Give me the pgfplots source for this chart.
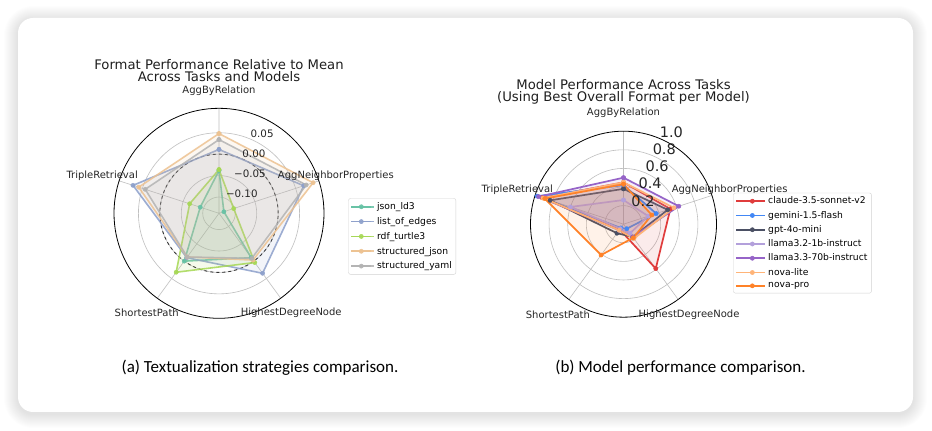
\documentclass[border=0pt]{standalone}
\usepackage{fontspec}
\setmainfont{DejaVu Sans}
\newfontfamily\capfont{Carlito}
\usepackage{pgfplots}
\pgfplotsset{compat=1.18}
\usepgfplotslibrary{polar}

\definecolor{cJson}{HTML}{66C2A5}
\definecolor{cEdges}{HTML}{8DA0CB}
\definecolor{cRdf}{HTML}{A6D854}
\definecolor{cSjson}{HTML}{EDC291}
\definecolor{cYaml}{HTML}{B3B3B3}

\definecolor{cClaude}{HTML}{E03C3C}
\definecolor{cGemini}{HTML}{4287F5}
\definecolor{cGpt}{HTML}{4B5064}
\definecolor{cLlamaS}{HTML}{B3A0DB}
\definecolor{cLlamaL}{HTML}{9664C8}
\definecolor{cLite}{HTML}{FFB478}
\definecolor{cPro}{HTML}{FF8228}

\newcommand{\radshift}{0.138}

\pgfplotsset{
  radarA/.style={draw=#1, draw opacity=0.85, line width=1.6pt, mark=*, mark size=2.1pt,
    mark options={solid, fill=#1, fill opacity=0.9, draw opacity=0.9, line width=0.5pt},
    fill=#1, fill opacity=0.11},
  radarB/.style={draw=#1, line width=1.7pt, mark=*, mark size=2.1pt,
    mark options={solid, fill=#1, fill opacity=1, draw opacity=1, line width=0.5pt},
    fill=#1, fill opacity=0.10},
  radarcommon/.style={
    separate axis lines,
    x axis line style={black, line width=0.8pt},
    y axis line style={draw=none},
    grid=major, major grid style={gray!50, line width=0.6pt},
    major tick length=0pt,
    clip=false,
    legend cell align=left,
  },
}

\begin{document}
\begin{tikzpicture}[x=1pt,y=1pt]
\useasboundingbox (0,0) rectangle (932,431);
\fill[white] (0,0) rectangle (932,431);
% soft shadow
\foreach \i in {1,...,14} {
  \pgfmathsetmacro\rr{15+\i}
  \fill[black, opacity=0.008, rounded corners=\rr pt] (18-\i, 17-\i) rectangle (913+\i, 413+\i-2);
}
\fill[white, rounded corners=15pt] (18,19) rectangle (913,413);

% ---------------- chart (a) ----------------
\begin{polaraxis}[
  radarcommon,
  at={(219pt,217.7pt)}, anchor=center, scale only axis, width=210pt, height=210pt,
  ymin=0, ymax=0.245,
  xtick={18,90,162,234,306}, xticklabels={,,,,},
  ytick={0.038,0.088,0.138,0.188}, yticklabels={,,,},
  extra y ticks={0.138}, extra y tick labels={},
  extra y tick style={major grid style={black!80, dashed, line width=0.9pt}},
  legend image code/.code={\path (0pt,0pt) -- (23pt,0pt);
    \draw[mark repeat=2,mark phase=2,#1] plot coordinates {(0pt,0pt) (10pt,0pt) (20pt,0pt)};},
  legend style={at={(1.1157,0.5714)}, anchor=north west, draw=gray!35, rounded corners=2pt,
    font=\fontsize{9.2}{11}\selectfont, inner xsep=2pt, inner ysep=2pt,
    nodes={inner sep=2pt}, row sep=2.35pt},
]
\addplot[radarA=cJson] table[x=a, y expr=\thisrow{v}+\radshift] {
a v
90 -0.038
18 -0.126
306 -0.010
234 0.000
162 -0.092
90 -0.038
};
\addplot[radarA=cEdges] table[x=a, y expr=\thisrow{v}+\radshift] {
a v
90 0.011
18 0.070
306 0.035
234 -0.010
162 0.073
90 0.011
};
\addplot[radarA=cRdf] table[x=a, y expr=\thisrow{v}+\radshift] {
a v
90 -0.036
18 -0.102
306 0.004
234 0.032
162 -0.066
90 -0.036
};
\addplot[radarA=cSjson] table[x=a, y expr=\thisrow{v}+\radshift] {
a v
90 0.048
18 0.093
306 -0.003
234 -0.012
162 0.059
90 0.048
};
\addplot[radarA=cYaml] table[x=a, y expr=\thisrow{v}+\radshift] {
a v
90 0.034
18 0.076
306 -0.008
234 -0.012
162 0.043
90 0.034
};
\legend{json\_ld3, list\_of\_edges, rdf\_turtle3, structured\_json, structured\_yaml}
% radial tick labels
\begin{scope}[every node/.style={anchor=south west, inner sep=0.6pt, font=\fontsize{10.3}{12}\selectfont, text=black!85}]
\node at (axis cs:67.5,0.038) {−0.10};
\node at (axis cs:67.5,0.088) {−0.05};
\node at (axis cs:67.5,0.138) {0.00};
\node at (axis cs:67.5,0.188) {0.05};
\end{scope}
% category labels
\begin{scope}[every node/.style={anchor=center, inner sep=0pt, font=\fontsize{10}{12}\selectfont, text=black!85}]
\node at (axis cs:90,0.2867) {AggByRelation};
\node at (axis cs:18,0.2867) {AggNeighborProperties};
\node at (axis cs:306,0.2867) {HighestDegreeNode};
\node at (axis cs:234,0.2867) {ShortestPath};
\node at (axis cs:162,0.2867) {TripleRetrieval};
\end{scope}
\end{polaraxis}

% ---------------- chart (b) ----------------
\begin{polaraxis}[
  radarcommon,
  at={(623.5pt,206.8pt)}, anchor=center, scale only axis, width=186pt, height=186pt,
  ymin=0, ymax=1.0,
  xtick={18,90,162,234,306}, xticklabels={,,,,},
  ytick={0.2,0.4,0.6,0.8}, yticklabels={,,,},
  legend image code/.code={\path (-6pt,0pt) -- (23pt,0pt);
    \draw[mark repeat=2,mark phase=2,#1] plot coordinates {(0pt,0pt) (10pt,0pt) (20pt,0pt)};},
  legend style={at={(1.0903,0.669)}, anchor=north west, draw=gray!35, rounded corners=2pt,
    font=\fontsize{9.2}{11}\selectfont, inner xsep=2pt, inner ysep=2pt,
    nodes={inner sep=2pt}, row sep=1.77pt},
]
\addplot[radarB=cClaude] table[x=a, y=v] {
a v
90 0.45
18 0.53
306 0.59
234 0.07
162 0.92
90 0.45
};
\addplot[radarB=cGemini] table[x=a, y=v] {
a v
90 0.42
18 0.37
306 0.06
234 0.05
162 0.975
90 0.42
};
\addplot[radarB=cGpt] table[x=a, y=v] {
a v
90 0.38
18 0.50
306 0.17
234 0.12
162 0.83
90 0.38
};
\addplot[radarB=cLlamaS] table[x=a, y=v] {
a v
90 0.26
18 0.28
306 0.12
234 0.06
162 0.60
90 0.26
};
\addplot[radarB=cLlamaL] table[x=a, y=v] {
a v
90 0.50
18 0.625
306 0.17
234 0.08
162 0.96
90 0.50
};
\addplot[radarB=cLite] table[x=a, y=v] {
a v
90 0.45
18 0.57
306 0.19
234 0.08
162 0.91
90 0.45
};
\addplot[radarB=cPro] table[x=a, y=v] {
a v
90 0.43
18 0.32
306 0.18
234 0.41
162 0.89
90 0.43
};
\legend{claude-3.5-sonnet-v2, gemini-1.5-flash, gpt-4o-mini, llama3.2-1b-instruct, llama3.3-70b-instruct, nova-lite, nova-pro}
\begin{scope}[every node/.style={anchor=south west, inner sep=0.6pt, font=\fontsize{14.5}{16}\selectfont, text=black!85}]
\node at (axis cs:67.5,0.2) {0.2};
\node at (axis cs:67.5,0.4) {0.4};
\node at (axis cs:67.5,0.6) {0.6};
\node at (axis cs:67.5,0.8) {0.8};
\node at (axis cs:67.5,1.0) {1.0};
\end{scope}
\begin{scope}[every node/.style={anchor=center, inner sep=0pt, font=\fontsize{10}{12}\selectfont, text=black!85}]
\node at (axis cs:90,1.2) {AggByRelation};
\node at (axis cs:18,1.2) {AggNeighborProperties};
\node at (axis cs:306,1.2) {HighestDegreeNode};
\node at (axis cs:234,1.2) {ShortestPath};
\node at (axis cs:162,1.2) {TripleRetrieval};
\end{scope}
\end{polaraxis}

% titles
\begin{scope}[every node/.style={anchor=base, inner sep=0pt, font=\fontsize{13.2}{15}\selectfont, text=black!88}]
\node at (219,361.7) {Format Performance Relative to Mean};
\node at (219,349.0) {Across Tasks and Models};
\node at (623.5,341.5) {Model Performance Across Tasks};
\node at (623.5,329.0) {(Using Best Overall Format per Model)};
\end{scope}
% captions
\begin{scope}[every node/.style={anchor=base, inner sep=0pt, font=\capfont\fontsize{17}{19}\selectfont, text=black}]
\node at (260,58.7) {(a) Textualization strategies comparison.};
\node at (680.5,58.7) {(b) Model performance comparison.};
\end{scope}
\end{tikzpicture}
\end{document}
